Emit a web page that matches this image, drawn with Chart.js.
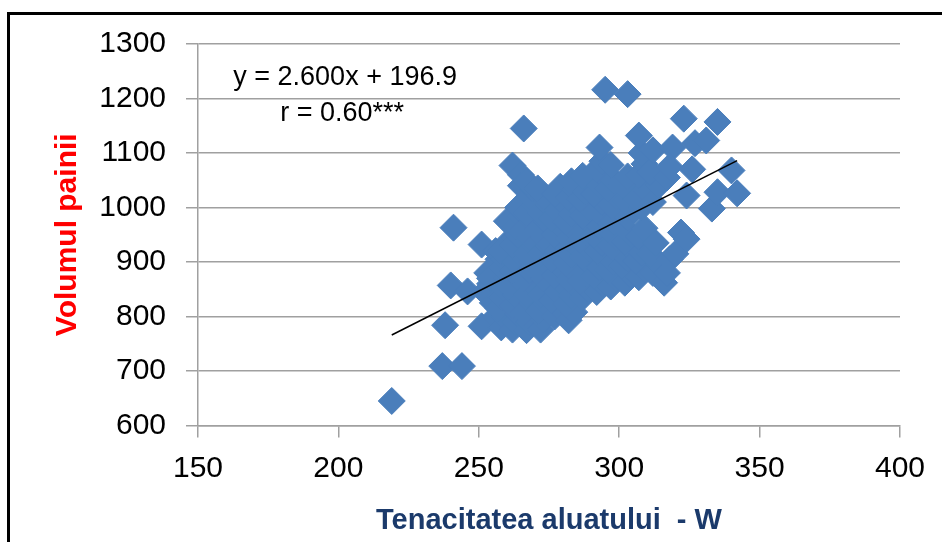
<!DOCTYPE html>
<html>
<head>
<meta charset="utf-8">
<script src="https://cdn.jsdelivr.net/npm/chart.js@4.4.0/dist/chart.umd.min.js"></script>
<style>
  html, body { margin: 0; padding: 0; background: #fff; }
  #wrap { position: relative; width: 942px; height: 542px; overflow: hidden; }
  #frame { position: absolute; left: 7px; top: 12px; width: 980px; height: 600px;
           border-left: 3px solid #000; border-top: 3px solid #000; pointer-events: none; }
  canvas { position: absolute; left: 0; top: 0; }
</style>
</head>
<body>
<div id="wrap">
  <canvas id="chartVolum" width="942" height="542"></canvas>
  <div id="frame"></div>
</div>
<script>
// W (tenacitatea aluatului) si volumul painii
const wVals = [
  219, 237, 244, 238, 240, 246, 241, 266, 295, 303, 323, 335,
  251, 253, 254, 252, 255, 251, 256, 257, 256, 254,
  258, 259, 257, 258, 259, 260, 258, 259, 260, 261, 260, 258,
  262, 263, 264, 262, 263, 261, 264, 262, 263, 265, 262, 264, 263, 265, 264, 262, 265, 265,
  267, 268, 266, 269, 267, 270, 266, 268, 269, 267, 270, 268, 266, 269, 267, 270, 268, 269, 267,
  272, 273, 271, 274, 272, 275, 273, 271, 274, 272, 275, 273, 271, 274, 272, 275, 273, 271,
  277, 279, 276, 278, 280, 277, 279, 276, 278, 280, 277, 279, 276, 278, 280, 277, 279,
  282, 284, 281, 283, 285, 282, 284, 281, 283, 285, 282, 284, 281, 283, 285, 282, 284, 283,
  287, 289, 286, 288, 290, 287, 289, 286, 288, 290, 287, 289, 286, 288, 290, 287,
  292, 294, 291, 293, 295, 292, 294, 291, 293, 295, 292, 294, 291, 293, 295, 292, 294, 293,
  297, 299, 296, 298, 300, 297, 299, 296, 298, 300, 297, 299, 296, 298, 297,
  302, 304, 301, 303, 305, 302, 304, 301, 303, 305, 302, 304, 301, 303,
  307, 309, 306, 308, 310, 307, 309, 308, 306, 310, 307, 309, 308, 307,
  312, 314, 311, 313, 312, 314, 311, 312,
  316, 317, 318, 320, 317, 319, 318,
  322, 324, 326, 324, 327, 331, 333, 335, 340, 342
];
const volumVals = [
  645, 709, 709, 784, 857, 846, 963, 1145, 1216, 1208, 1163, 1157,
  932, 880, 860, 845, 825, 782, 800, 905, 920, 870,
  780, 800, 815, 835, 850, 870, 890, 905, 925, 940, 975, 920,
  776, 790, 805, 820, 840, 855, 870, 885, 900, 915, 930, 950, 965, 985, 1000, 1077, 1060, 1040,
  775, 790, 808, 825, 840, 855, 870, 885, 900, 915, 930, 945, 960, 975, 990, 1005, 1020, 1035, 1048,
  776, 795, 810, 825, 840, 855, 870, 885, 900, 915, 930, 945, 960, 975, 990, 1005, 1020, 1035,
  800, 815, 830, 845, 860, 875, 890, 905, 920, 935, 950, 965, 980, 995, 1010, 1025, 1038,
  793, 808, 823, 838, 853, 868, 883, 898, 913, 928, 943, 958, 973, 988, 1003, 1018, 1033, 1048,
  835, 850, 865, 880, 895, 910, 925, 940, 955, 970, 985, 1000, 1015, 1030, 1045, 1058,
  845, 860, 875, 890, 905, 920, 935, 950, 965, 980, 995, 1010, 1025, 1040, 1055, 1070, 1085, 1110,
  855, 870, 885, 900, 915, 930, 945, 960, 975, 990, 1005, 1020, 1035, 1050, 1078,
  862, 877, 892, 907, 922, 937, 952, 967, 982, 997, 1012, 1027, 1042, 1057,
  872, 887, 902, 917, 932, 947, 962, 1000, 1015, 1030, 1060, 1080, 1100, 1132,
  880, 895, 915, 935, 1010, 1040, 1065, 1105,
  862, 880, 905, 915, 1055, 1110, 1075,
  954, 942, 1070, 1022, 1118, 1123, 998, 1028, 1068, 1026
];

// dreapta de regresie y = 2.600x + 196.9 (capete)
const trendX = [219, 342];
const trendY = [766, 1086];

const eqLines = ['y = 2.600x + 196.9', 'r = 0.60***'];

const fontFam = '"Liberation Sans", Arial, sans-serif';

function buildPoints(xs, ys) {
    return xs.map((v, i) => ({ x: v, y: ys[i] }));
}

// text cu ecuatia, pozitionat in coordonatele graficului
const eqPlugin = {
    id: 'eqText',
    afterDatasetsDraw(chart) {
        const ctx = chart.ctx;
        const xs = chart.scales.x;
        const ys = chart.scales.y;
        ctx.save();
        ctx.fillStyle = '#000';
        ctx.font = '27px ' + fontFam;
        ctx.textAlign = 'center';
        ctx.textBaseline = 'middle';
        ctx.fillText(eqLines[0], xs.getPixelForValue(202.4), ys.getPixelForValue(1238));
        ctx.fillText(eqLines[1], xs.getPixelForValue(201.3), ys.getPixelForValue(1173));
        ctx.restore();
    }
};

const ctx = document.getElementById('chartVolum').getContext('2d');
const myChart = new Chart(ctx, {
    type: 'scatter',
    data: {
        datasets: [{
            label: 'Trend',
            data: buildPoints(trendX, trendY),
            showLine: true,
            borderColor: '#000',
            borderWidth: 1.5,
            pointRadius: 0,
            order: 0
        },
        {
            label: 'Volumul painii',
            data: buildPoints(wVals, volumVals),
            pointStyle: 'rectRot',
            pointRadius: 13.5,
            backgroundColor: '#4a7ebb',
            borderColor: '#4a7ebb',
            borderWidth: 1,
            order: 1
        }]
    },
    options: {
        responsive: false,
        animation: false,
        layout: { padding: { left: 0, top: 44, right: 42, bottom: 0 } },
        plugins: {
            legend: { display: false },
            tooltip: { enabled: false }
        },
        scales: {
            x: {
                type: 'linear',
                min: 150,
                max: 400,
                ticks: {
                    stepSize: 50, padding: 13, color: '#000',
                    font: { family: fontFam, size: 30 },
                    callback: (v) => String(v)
                },
                grid: { drawOnChartArea: false, drawTicks: true, tickLength: 12, color: '#a0a0a0', lineWidth: 1.5 },
                border: { color: '#a0a0a0', width: 1.5 },
                title: {
                    display: true,
                    text: 'Tenacitatea aluatului  - W',
                    color: '#1b3a6b',
                    font: { family: fontFam, size: 29, weight: 'bold' },
                    padding: { top: 0, bottom: 4 }
                },
                afterFit: (s) => { s.height = 116.5; }
            },
            y: {
                type: 'linear',
                min: 600,
                max: 1300,
                ticks: {
                    stepSize: 100, padding: 20, color: '#000',
                    font: { family: fontFam, size: 30 },
                    callback: (v) => String(v)
                },
                grid: { drawOnChartArea: true, drawTicks: true, tickLength: 12, color: '#a0a0a0', lineWidth: 1.5 },
                border: { color: '#a0a0a0', width: 1.5 },
                title: {
                    display: true,
                    text: 'Volumul painii',
                    color: '#ff0000',
                    font: { family: fontFam, size: 30, weight: 'bold' },
                    padding: { top: 50, bottom: 0 }
                },
                afterFit: (s) => { s.width = 198; }
            }
        }
    },
    plugins: [eqPlugin]
});
</script>
</body>
</html>
